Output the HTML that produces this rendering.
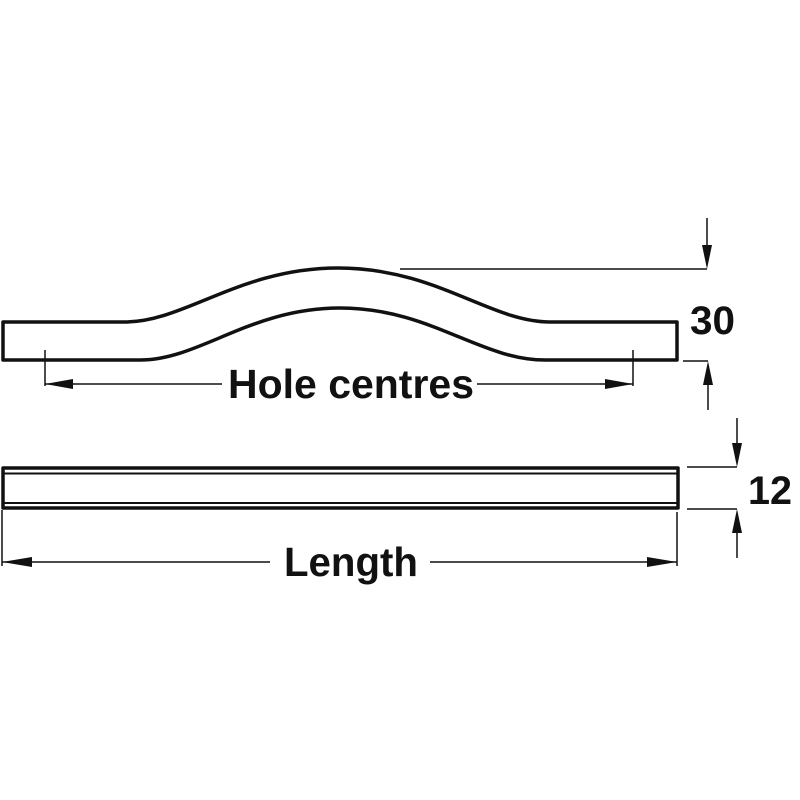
<!DOCTYPE html>
<html><head><style>
html,body{margin:0;padding:0;background:#fff;}
svg{display:block;}
text{font-family:"Liberation Sans",Arial,sans-serif;font-weight:bold;fill:#111;}
</style></head><body>
<svg width="800" height="800" viewBox="0 0 800 800">
<rect width="800" height="800" fill="#fff"/>
<g fill="none" stroke="#111" stroke-linejoin="round">
 <path d="M125,322 H3 V360 H140" stroke-width="3.5"/>
 <path d="M125,322 C185,322 240,268 338,268 C436,268 490,322 550,322 H677 V360 H545" stroke-width="3.5"/>
 <path d="M140,360 C200,360 250,308 340,308 C430,308 480,360 545,360" stroke-width="3.5"/>
 <rect x="3" y="468" width="675" height="40" stroke-width="3.5"/>
 <line x1="3" y1="473.5" x2="678" y2="473.5" stroke-width="2"/>
 <line x1="3" y1="503" x2="678" y2="503" stroke-width="2"/>
 <g stroke-width="1.5">
  <line x1="45" y1="350" x2="45" y2="386"/>
  <line x1="633" y1="350" x2="633" y2="386"/>
  <line x1="45" y1="384" x2="222" y2="384"/>
  <line x1="477" y1="384" x2="633" y2="384"/>
  <line x1="2" y1="510" x2="2" y2="566"/>
  <line x1="677" y1="512" x2="677" y2="566"/>
  <line x1="2" y1="562" x2="270" y2="562"/>
  <line x1="430" y1="562" x2="677" y2="562"/>
  <line x1="400" y1="269" x2="707" y2="269"/>
  <line x1="707" y1="218" x2="707" y2="255"/>
  <line x1="683" y1="361" x2="708" y2="361"/>
  <line x1="708" y1="375" x2="708" y2="410"/>
  <line x1="687" y1="467" x2="737" y2="467"/>
  <line x1="737" y1="418" x2="737" y2="455"/>
  <line x1="687" y1="509" x2="737" y2="509"/>
  <line x1="737" y1="520" x2="737" y2="558"/>
 </g>
</g>
<g fill="#111">
 <polygon points="45,384 73,379 73,389"/>
 <polygon points="633,384 605,379 605,389"/>
 <polygon points="2,562 32,557 32,567"/>
 <polygon points="677,562 647,557 647,567"/>
 <polygon points="707,269 702,245 712,245"/>
 <polygon points="708,361 703,385 713,385"/>
 <polygon points="737,467 732,443 742,443"/>
 <polygon points="737,509 732,533 742,533"/>
</g>
<text x="351" y="398" font-size="41" text-anchor="middle" textLength="246" lengthAdjust="spacingAndGlyphs">Hole centres</text>
<text x="351" y="576" font-size="41" text-anchor="middle" textLength="134" lengthAdjust="spacingAndGlyphs">Length</text>
<text x="690" y="334" font-size="40" textLength="45" lengthAdjust="spacingAndGlyphs">30</text>
<text x="748" y="504" font-size="40" textLength="44" lengthAdjust="spacingAndGlyphs">12</text>
</svg>
</body></html>
